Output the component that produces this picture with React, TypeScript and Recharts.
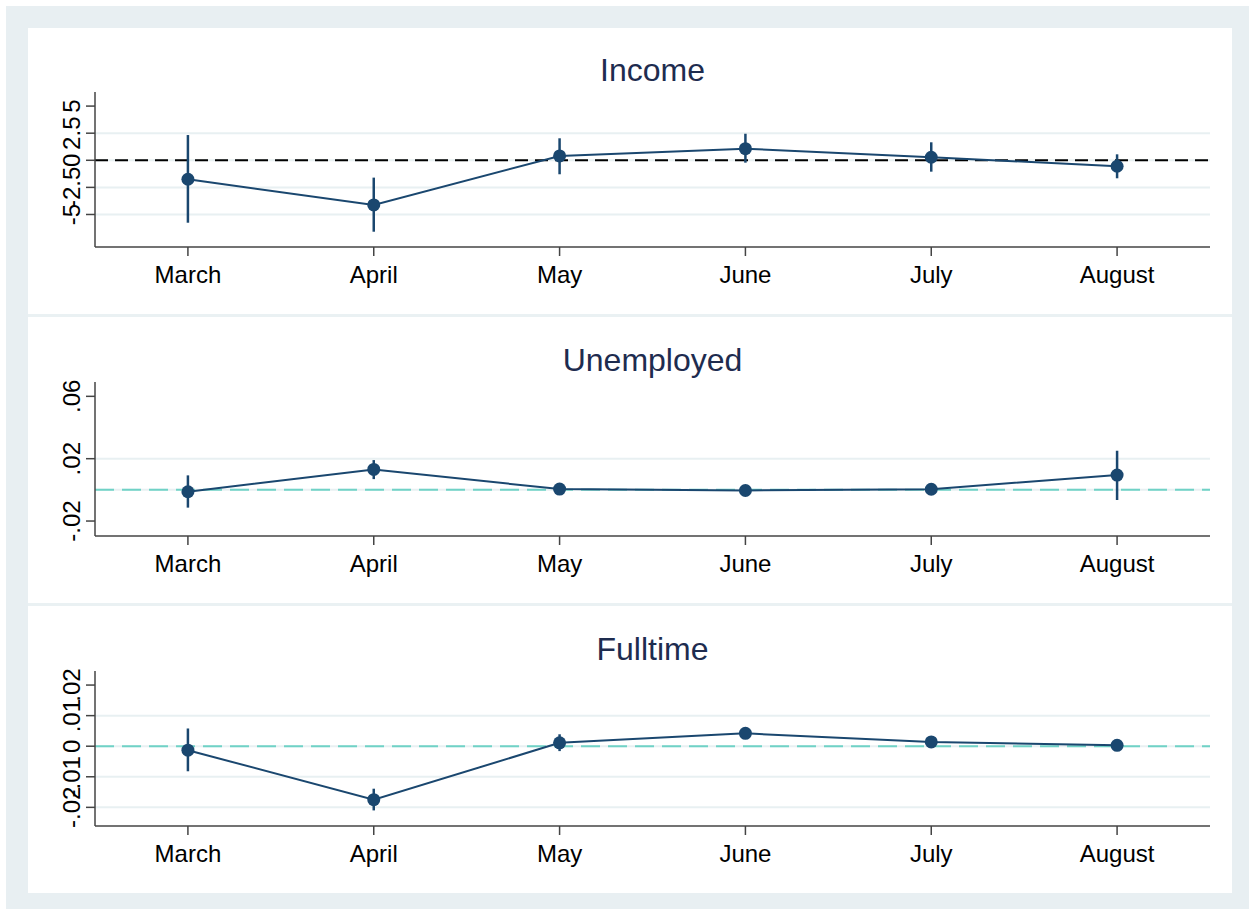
import React from 'react';
import { LineChart, Line, XAxis, YAxis, ReferenceLine, ErrorBar } from 'recharts';

const months = ['March', 'April', 'May', 'June', 'July', 'August'];

const incomeEst = [-1.75, -4.12, 0.4, 1.07, 0.28, -0.55];
const incomeLo = [-5.76, -6.59, -1.29, -0.22, -1.05, -1.66];
const incomeHi = [2.33, -1.6, 2.03, 2.45, 1.66, 0.55];
const incomeTicks = [-5, -2.5, 0, 2.5, 5];
const incomeTickLabels = ['-5', '-2.5', '0', '2.5', '5'];
const incomeGrid = [-5, -2.5, 0, 2.5];

const unempEst = [-0.0012, 0.0131, 0.0005, -0.0004, 0.0004, 0.0095];
const unempLo = [-0.0114, 0.0069, -0.0015, -0.0022, -0.0015, -0.0065];
const unempHi = [0.0093, 0.0191, 0.0025, 0.0016, 0.0023, 0.0251];
const unempTicks = [-0.02, 0.02, 0.06];
const unempTickLabels = ['-.02', '.02', '.06'];
const unempGrid = [0, 0.02];

const fullEst = [-0.0013, -0.0175, 0.0011, 0.0042, 0.0014, 0.0003];
const fullLo = [-0.0082, -0.021, -0.0016, 0.0026, 0.0001, -0.0009];
const fullHi = [0.0058, -0.0139, 0.0039, 0.0057, 0.0027, 0.0015];
const fullTicks = [-0.02, -0.01, 0, 0.01, 0.02];
const fullTickLabels = ['-.02', '-.01', '0', '.01', '.02'];
const fullGrid = [-0.02, -0.01, 0, 0.01];

const NAVY = '#1a476f';
const FONT = '"Liberation Sans", Arial, Helvetica, sans-serif';

const makeRows = (est: number[], lo: number[], hi: number[]) =>
  months.map((m, i) => ({ x: i, month: m, y: est[i], err: [est[i] - lo[i], hi[i] - est[i]] }));

const YTick = (props: any) => {
  const { x, y, payload, labels, ticks } = props;
  const idx = ticks.indexOf(payload.value);
  return (
    <text
      transform={`translate(${x}, ${y}) rotate(-90)`}
      textAnchor="middle"
      fontSize={24}
      fontFamily={FONT}
      fill="#000"
    >
      {idx >= 0 ? labels[idx] : payload.value}
    </text>
  );
};

type PanelProps = {
  title: string;
  top: number;
  plotTop: number;
  plotBottom: number;
  est: number[];
  lo: number[];
  hi: number[];
  domain: [number, number];
  ticks: number[];
  labels: string[];
  grid: number[];
  zeroColor: string;
  zeroDash: string;
};

const Panel = (p: PanelProps) => {
  const height = p.plotBottom - p.top + 60;
  const rows = makeRows(p.est, p.lo, p.hi);
  return (
    <>
      <div
        style={{
          position: 'absolute',
          left: 95,
          width: 1115,
          top: p.plotTop - 11 - 27,
          textAlign: 'center',
          fontFamily: FONT,
          fontSize: 32,
          lineHeight: '32px',
          color: '#1e2c4f',
        }}
      >
        {p.title}
      </div>
      <div style={{ position: 'absolute', left: 28, top: p.top, width: 1204, height }}>
        <LineChart
          width={1204}
          height={height}
          data={rows}
          margin={{ top: p.plotTop - p.top, right: 22, bottom: 0, left: 0 }}
        >
          {p.grid.map((g) => (
            <ReferenceLine key={`g${g}`} y={g} stroke="#e8f0f2" strokeWidth={2} ifOverflow="hidden" />
          ))}
          <ReferenceLine y={0} stroke={p.zeroColor} strokeWidth={2} strokeDasharray={p.zeroDash} />
          <XAxis
            type="number"
            dataKey="x"
            domain={[-0.5, 5.5]}
            ticks={[0, 1, 2, 3, 4, 5]}
            tickFormatter={(v: number) => months[v]}
            height={60}
            tickSize={9}
            tickMargin={10}
            stroke="#444"
            strokeWidth={1.5}
            tick={{ fontSize: 24, fontFamily: FONT, fill: '#000' }}
            allowDataOverflow
          />
          <YAxis
            type="number"
            domain={p.domain}
            ticks={p.ticks}
            width={67}
            tickSize={9}
            tickMargin={6}
            stroke="#444"
            strokeWidth={1.5}
            tick={<YTick labels={p.labels} ticks={p.ticks} />}
            allowDataOverflow
          />
          <Line
            type="linear"
            dataKey="y"
            stroke={NAVY}
            strokeWidth={2}
            dot={{ r: 6.5, fill: NAVY, stroke: NAVY, strokeWidth: 0 }}
            activeDot={false}
            isAnimationActive={false}
          >
            <ErrorBar dataKey="err" width={0} stroke={NAVY} strokeWidth={2.5} direction="y" isAnimationActive={false} />
          </Line>
        </LineChart>
      </div>
    </>
  );
};

export default function App() {
  return (
    <div
      style={{
        position: 'absolute',
        left: 0,
        top: 0,
        width: 1249,
        height: 909,
        background: '#fff',
        overflow: 'hidden',
      }}
    >
      <div style={{ position: 'absolute', left: 6, top: 6, width: 1243, height: 903, background: '#e8eff2' }} />
      <div style={{ position: 'absolute', left: 28, top: 28, width: 1204, height: 865, background: '#fff' }} />
      <div style={{ position: 'absolute', left: 28, top: 314, width: 1204, height: 3, background: '#eaf1f3' }} />
      <div style={{ position: 'absolute', left: 28, top: 603, width: 1204, height: 3, background: '#eaf1f3' }} />
      <Panel
        title="Income"
        top={28}
        plotTop={92}
        plotBottom={247}
        est={incomeEst}
        lo={incomeLo}
        hi={incomeHi}
        domain={[-8.0, 6.3]}
        ticks={incomeTicks}
        labels={incomeTickLabels}
        grid={incomeGrid}
        zeroColor="#000"
        zeroDash="13 7"
      />
      <Panel
        title="Unemployed"
        top={317}
        plotTop={382}
        plotBottom={536}
        est={unempEst}
        lo={unempLo}
        hi={unempHi}
        domain={[-0.0296, 0.0692]}
        ticks={unempTicks}
        labels={unempTickLabels}
        grid={unempGrid}
        zeroColor="#70d2c6"
        zeroDash="19 8"
      />
      <Panel
        title="Fulltime"
        top={607}
        plotTop={671}
        plotBottom={826}
        est={fullEst}
        lo={fullLo}
        hi={fullHi}
        domain={[-0.0261, 0.0246]}
        ticks={fullTicks}
        labels={fullTickLabels}
        grid={fullGrid}
        zeroColor="#70d2c6"
        zeroDash="19 8"
      />
    </div>
  );
}
